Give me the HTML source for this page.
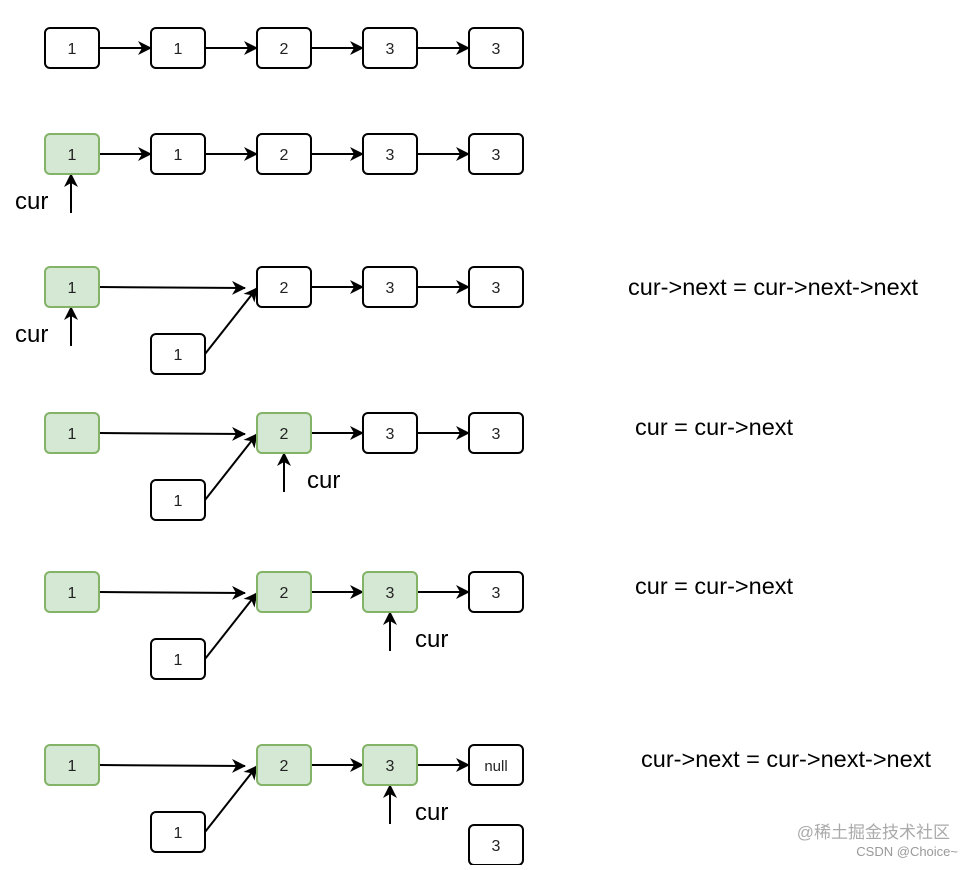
<!DOCTYPE html>
<html><head><style>body{margin:0;background:#fff}</style></head><body>
<svg width="973" height="865" xmlns="http://www.w3.org/2000/svg" font-family="Liberation Sans, sans-serif">
<defs>
<marker id="b" markerWidth="14" markerHeight="14" refX="13" refY="7" orient="auto" markerUnits="userSpaceOnUse"><path d="M0,0 L14,7 L0,14 L4,7 Z" fill="#000"/></marker></defs>
<g stroke="#000" stroke-width="2" fill="none">
<line x1="99" y1="48" x2="151" y2="48" marker-end="url(#b)"/>
<line x1="205" y1="48" x2="257" y2="48" marker-end="url(#b)"/>
<line x1="311" y1="48" x2="363" y2="48" marker-end="url(#b)"/>
<line x1="417" y1="48" x2="469" y2="48" marker-end="url(#b)"/>
<line x1="99" y1="154" x2="151" y2="154" marker-end="url(#b)"/>
<line x1="205" y1="154" x2="257" y2="154" marker-end="url(#b)"/>
<line x1="311" y1="154" x2="363" y2="154" marker-end="url(#b)"/>
<line x1="417" y1="154" x2="469" y2="154" marker-end="url(#b)"/>
<line x1="71" y1="213" x2="71" y2="174" marker-end="url(#b)"/>
<line x1="99" y1="287" x2="245" y2="288" marker-end="url(#b)"/>
<line x1="205" y1="354" x2="257" y2="288" marker-end="url(#b)"/>
<line x1="311" y1="287" x2="363" y2="287" marker-end="url(#b)"/>
<line x1="417" y1="287" x2="469" y2="287" marker-end="url(#b)"/>
<line x1="71" y1="346" x2="71" y2="307" marker-end="url(#b)"/>
<line x1="99" y1="433" x2="245" y2="434" marker-end="url(#b)"/>
<line x1="205" y1="500" x2="257" y2="434" marker-end="url(#b)"/>
<line x1="311" y1="433" x2="363" y2="433" marker-end="url(#b)"/>
<line x1="417" y1="433" x2="469" y2="433" marker-end="url(#b)"/>
<line x1="284" y1="492" x2="284" y2="453" marker-end="url(#b)"/>
<line x1="99" y1="592" x2="245" y2="593" marker-end="url(#b)"/>
<line x1="205" y1="659" x2="257" y2="593" marker-end="url(#b)"/>
<line x1="311" y1="592" x2="363" y2="592" marker-end="url(#b)"/>
<line x1="417" y1="592" x2="469" y2="592" marker-end="url(#b)"/>
<line x1="390" y1="651" x2="390" y2="612" marker-end="url(#b)"/>
<line x1="99" y1="765" x2="245" y2="766" marker-end="url(#b)"/>
<line x1="205" y1="832" x2="257" y2="766" marker-end="url(#b)"/>
<line x1="311" y1="765" x2="363" y2="765" marker-end="url(#b)"/>
<line x1="417" y1="765" x2="469" y2="765" marker-end="url(#b)"/>
<line x1="390" y1="824" x2="390" y2="785" marker-end="url(#b)"/>
</g>
<g stroke-width="2">
<g stroke="#000" fill="#fff">
<rect x="45" y="28" width="54" height="40" rx="5"/><rect x="151" y="28" width="54" height="40" rx="5"/><rect x="257" y="28" width="54" height="40" rx="5"/><rect x="363" y="28" width="54" height="40" rx="5"/><rect x="469" y="28" width="54" height="40" rx="5"/>
<rect x="151" y="134" width="54" height="40" rx="5"/><rect x="257" y="134" width="54" height="40" rx="5"/><rect x="363" y="134" width="54" height="40" rx="5"/><rect x="469" y="134" width="54" height="40" rx="5"/>
<rect x="257" y="267" width="54" height="40" rx="5"/><rect x="363" y="267" width="54" height="40" rx="5"/><rect x="469" y="267" width="54" height="40" rx="5"/><rect x="151" y="334" width="54" height="40" rx="5"/>
<rect x="363" y="413" width="54" height="40" rx="5"/><rect x="469" y="413" width="54" height="40" rx="5"/><rect x="151" y="480" width="54" height="40" rx="5"/>
<rect x="469" y="572" width="54" height="40" rx="5"/><rect x="151" y="639" width="54" height="40" rx="5"/>
<rect x="469" y="745" width="54" height="40" rx="5"/><rect x="151" y="812" width="54" height="40" rx="5"/><rect x="469" y="825" width="54" height="40" rx="5"/>
</g>
<g stroke="#82b366" fill="#d5e8d4">
<rect x="45" y="134" width="54" height="40" rx="5"/>
<rect x="45" y="267" width="54" height="40" rx="5"/>
<rect x="45" y="413" width="54" height="40" rx="5"/><rect x="257" y="413" width="54" height="40" rx="5"/>
<rect x="45" y="572" width="54" height="40" rx="5"/><rect x="257" y="572" width="54" height="40" rx="5"/><rect x="363" y="572" width="54" height="40" rx="5"/>
<rect x="45" y="745" width="54" height="40" rx="5"/><rect x="257" y="745" width="54" height="40" rx="5"/><rect x="363" y="745" width="54" height="40" rx="5"/>
</g>
</g>
<g font-size="16" text-anchor="middle" fill="#222">
<text x="72" y="54">1</text><text x="178" y="54">1</text><text x="284" y="54">2</text><text x="390" y="54">3</text><text x="496" y="54">3</text>
<text x="72" y="160">1</text><text x="178" y="160">1</text><text x="284" y="160">2</text><text x="390" y="160">3</text><text x="496" y="160">3</text>
<text x="72" y="293">1</text><text x="284" y="293">2</text><text x="390" y="293">3</text><text x="496" y="293">3</text><text x="178" y="360">1</text>
<text x="72" y="439">1</text><text x="284" y="439">2</text><text x="390" y="439">3</text><text x="496" y="439">3</text><text x="178" y="506">1</text>
<text x="72" y="598">1</text><text x="284" y="598">2</text><text x="390" y="598">3</text><text x="496" y="598">3</text><text x="178" y="665">1</text>
<text x="72" y="771">1</text><text x="284" y="771">2</text><text x="390" y="771">3</text><text x="496" y="771" font-size="15">null</text><text x="178" y="838">1</text><text x="496" y="851">3</text>
</g>
<g font-size="24" fill="#000">
<text x="15" y="209">cur</text><text x="15" y="342">cur</text><text x="307" y="488">cur</text><text x="415" y="647">cur</text><text x="415" y="820">cur</text>
</g>
<g font-size="23.5" fill="#000">
<text x="628" y="295">cur-&gt;next = cur-&gt;next-&gt;next</text>
<text x="635" y="435">cur = cur-&gt;next</text>
<text x="635" y="594">cur = cur-&gt;next</text>
<text x="641" y="767">cur-&gt;next = cur-&gt;next-&gt;next</text>
</g>
<text x="950" y="838" font-size="17" fill="#aaa" text-anchor="end" font-family="Liberation Sans, Noto Sans CJK SC, sans-serif">@稀土掘金技术社区</text>
<text x="958" y="856" font-size="13" fill="#999" text-anchor="end">CSDN @Choice~</text>
</svg>
</body></html>
